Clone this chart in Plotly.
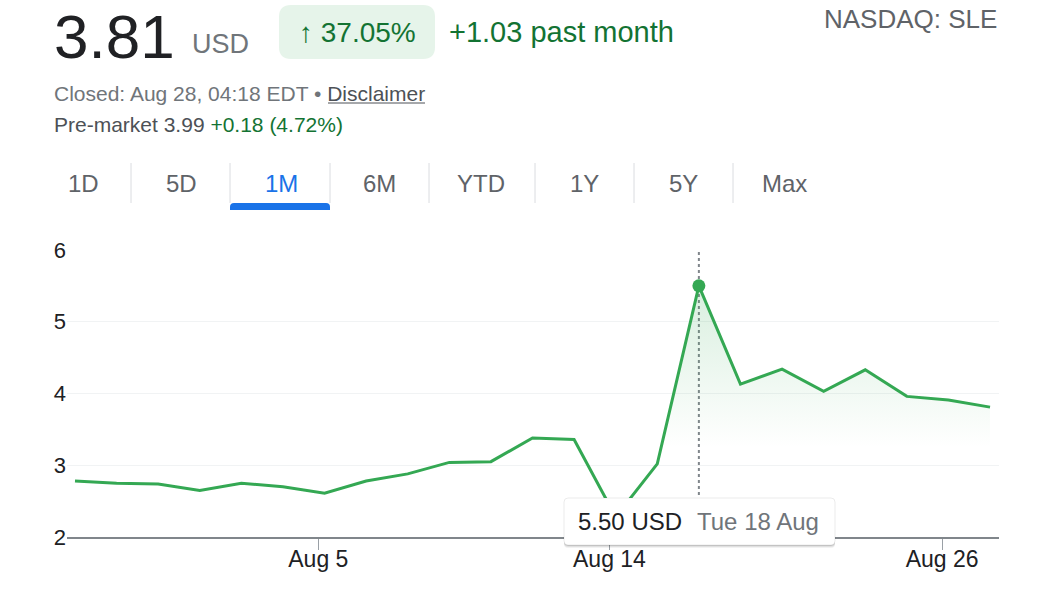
import plotly.graph_objects as go

W, H = 1054, 595

# ---------------- data ----------------
dates = ["Jul 28", "Jul 29", "Jul 30", "Jul 31", "Aug 3", "Aug 4", "Aug 5", "Aug 6",
         "Aug 7", "Aug 10", "Aug 11", "Aug 12", "Aug 13", "Aug 14", "Aug 17", "Aug 18",
         "Aug 19", "Aug 20", "Aug 21", "Aug 24", "Aug 25", "Aug 26", "Aug 27"]
prices = [2.78, 2.75, 2.74, 2.65, 2.75, 2.70, 2.61, 2.78, 2.88, 3.04, 3.05, 3.38,
          3.36, 2.28, 3.02, 5.50, 4.13, 4.34, 4.03, 4.33, 3.96, 3.91, 3.81]
x_tick_labels = ["Aug 5", "Aug 14", "Aug 26"]
y_ticks = [2, 3, 4, 5, 6]
tabs = ["1D", "5D", "1M", "6M", "YTD", "1Y", "5Y", "Max"]
active_tab = "1M"
highlight_date = "Aug 18"
highlight_label = "Tue 18 Aug"
last_price = 3.81
change_pct = 37.05
change_abs = 1.03
premarket = 3.99
premarket_chg = 0.18
premarket_pct = 4.72
exchange = "NASDAQ: SLE"
closed_text = "Closed: Aug 28, 04:18 EDT"

# ---------------- styling ----------------
FONT = "Arial, 'Liberation Sans', sans-serif"
GREEN = "#34a853"
DKGREEN = "#137333"
GRAY = "#70757a"
DARK = "#202124"
BLUE = "#1a73e8"


def px(x):
    return x / W


def py(y):
    return 1 - y / H


def rrect_path(x0, y0, x1, y1, r, top_only=False):
    X0, X1 = px(x0), px(x1)
    Y0, Y1 = py(y0), py(y1)
    rx, ry = r / W, r / H
    if top_only:
        return (f"M{X0},{Y1} L{X0},{Y0 - ry} Q{X0},{Y0} {X0 + rx},{Y0} "
                f"L{X1 - rx},{Y0} Q{X1},{Y0} {X1},{Y0 - ry} L{X1},{Y1} Z")
    return (f"M{X0 + rx},{Y0} L{X1 - rx},{Y0} Q{X1},{Y0} {X1},{Y0 - ry} "
            f"L{X1},{Y1 + ry} Q{X1},{Y1} {X1 - rx},{Y1} L{X0 + rx},{Y1} "
            f"Q{X0},{Y1} {X0},{Y1 + ry} L{X0},{Y0 - ry} Q{X0},{Y0} {X0 + rx},{Y0} Z")


idx = list(range(len(prices)))
tick_offset = -0.15
x_tickvals = [dates.index(d) + tick_offset for d in x_tick_labels]
hi = dates.index(highlight_date)

fig = go.Figure()

fig.add_trace(go.Scatter(
    x=idx, y=prices, mode="lines",
    line=dict(color=GREEN, width=3),
    fill="tozeroy",
    fillgradient=dict(type="vertical", start=3.25, stop=5.5,
                      colorscale=[[0, "rgba(52,168,83,0)"], [1, "rgba(52,168,83,0.19)"]]),
    hoverinfo="skip", showlegend=False,
))
fig.add_trace(go.Scatter(
    x=[hi], y=[prices[hi]], mode="markers",
    marker=dict(color=GREEN, size=13),
    hoverinfo="skip", showlegend=False,
))

shapes = []
annotations = []

# dotted vertical guide
shapes.append(dict(type="line", xref="x", yref="y", x0=hi, x1=hi, y0=2, y1=6,
                   line=dict(color="#80868b", width=2, dash="dot"), layer="between"))

# badge
shapes.append(dict(type="path", xref="paper", yref="paper",
                   path=rrect_path(279, 5, 435, 59, 12),
                   fillcolor="#e6f4ea", line=dict(width=0), layer="above"))

# tab separators
sep_x = [131, 230, 330, 429, 535, 634, 733]
for sx in sep_x:
    shapes.append(dict(type="line", xref="paper", yref="paper",
                       x0=px(sx), x1=px(sx), y0=py(163), y1=py(203),
                       line=dict(color="#dadce0", width=1), layer="above"))
# active tab underline
shapes.append(dict(type="path", xref="paper", yref="paper",
                   path=rrect_path(230, 203, 330, 210, 4, top_only=True),
                   fillcolor=BLUE, line=dict(width=0), layer="above"))

# tooltip with shadow
for off, a in [(3, 0.05), (2, 0.07), (1, 0.09)]:
    shapes.append(dict(type="path", xref="paper", yref="paper",
                       path=rrect_path(564, 498 + off, 835, 545 + off, 4),
                       fillcolor=f"rgba(0,0,0,{a})", line=dict(width=0), layer="above"))
shapes.append(dict(type="path", xref="paper", yref="paper",
                   path=rrect_path(564, 498, 835, 545, 4),
                   fillcolor="white", line=dict(color="rgba(0,0,0,0.08)", width=1),
                   layer="above"))

# underline for Disclaimer
shapes.append(dict(type="line", xref="paper", yref="paper",
                   x0=px(328), x1=px(425), y0=py(103), y1=py(103),
                   line=dict(color="#4d5156", width=1), layer="above"))


def ann(text, x, y, size, color, xanchor="left", yanchor="middle"):
    annotations.append(dict(text=text, x=px(x), y=py(y), xref="paper", yref="paper",
                            xanchor=xanchor, yanchor=yanchor, showarrow=False,
                            font=dict(family=FONT, size=size, color=color)))


ann(f"{last_price:.2f}", 52, 0, 62, DARK, yanchor="top")
ann("USD", 190, 44, 27, GRAY)
ann(f"\u2191 {change_pct:.2f}%", 357, 32, 28, DKGREEN, xanchor="center")
ann(f"+{change_abs:.2f} past month", 447, 32, 29, DKGREEN)
ann(exchange, 999, 19, 26, "#5f6368", xanchor="right")
ann(f"{closed_text} \u2022 <span style='color:#4d5156'>Disclaimer</span>", 52, 93, 21, GRAY)
ann(f"Pre-market {premarket:.2f} <span style='color:{DKGREEN}'>+{premarket_chg:.2f} ({premarket_pct:.2f}%)</span>",
    52, 124, 21, "#4d5156")

tab_x = [83, 181, 281, 379, 481, 584, 683, 784]
for t, tx in zip(tabs, tab_x):
    ann(t, tx, 183, 24, BLUE if t == active_tab else "#5f6368", xanchor="center")

ann(f"{prices[hi]:.2f} USD", 576, 521, 24, DARK)
ann(highlight_label, 695, 521, 24, GRAY)

fig.update_layout(
    width=W, height=H,
    autosize=False,
    margin=dict(l=0, r=0, t=0, b=0, pad=0, autoexpand=False),
    paper_bgcolor="white", plot_bgcolor="white",
    font=dict(family=FONT, color=DARK),
    hovermode=False,
    showlegend=False,
    shapes=shapes,
    annotations=annotations,
    xaxis=dict(
        domain=[px(67), px(999)],
        range=[-0.192, len(prices) - 1 + 0.216],
        tickmode="array", tickvals=x_tickvals, ticktext=x_tick_labels,
        ticks="outside", ticklen=11, tickwidth=1, tickcolor="#9aa0a6",
        showline=True, linecolor="#80868b", linewidth=2,
        showgrid=False, zeroline=False, automargin=False,
        tickfont=dict(family=FONT, size=23, color=DARK),
        ticklabelstandoff=-11,
        fixedrange=True,
    ),
    yaxis=dict(
        domain=[py(537), py(250)],
        range=[2, 6],
        tickmode="array", tickvals=y_ticks, ticktext=[str(v) for v in y_ticks],
        ticks="", showline=False,
        showgrid=True, gridcolor="#f1f3f4", gridwidth=1,
        zeroline=False, automargin=False,
        tickfont=dict(family=FONT, size=22, color=DARK),
        ticklabelstandoff=0,
        fixedrange=True,
    ),
)

fig.write_html("out.html", config={"displayModeBar": False},
               post_script="document.body.style.margin='0';")
